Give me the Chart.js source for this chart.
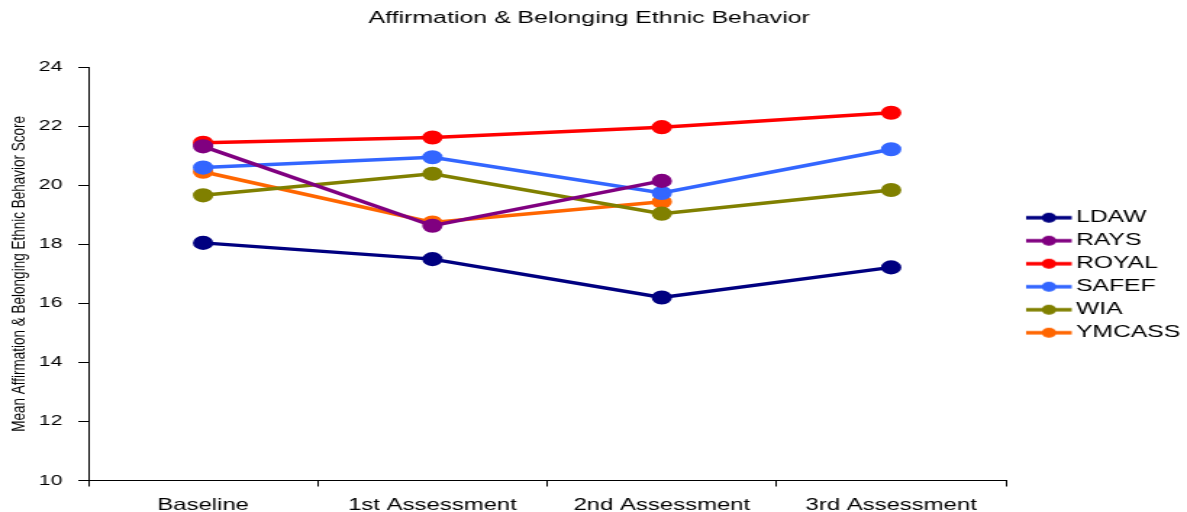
<!DOCTYPE html>
<html>
<head>
<meta charset="utf-8">
<title>Affirmation & Belonging Ethnic Behavior</title>
<script src="https://cdn.jsdelivr.net/npm/chart.js@4/dist/chart.umd.min.js"></script>
<style>
  html, body { margin: 0; padding: 0; background: #fff; overflow: hidden; }
  /* chart is laid out narrow, then stretched sideways to fill the page */
  #stage {
    width: 819px;
    height: 512px;
    transform: scaleX(1.4493);
    transform-origin: 0 0;
  }
</style>
</head>
<body>
<div id="stage"><canvas id="myChart"></canvas></div>
<script>
const assessments = ['Baseline', '1st Assessment', '2nd Assessment', '3rd Assessment'];

const ldaw   = [18.05, 17.50, 16.20, 17.22];
const rays   = [21.32, 18.63, 20.15, null];
const royal  = [21.44, 21.62, 21.97, 22.46];
const safef  = [20.60, 20.95, 19.74, 21.22];
const wia    = [19.66, 20.39, 19.04, 19.84];
const ymcass = [20.46, 18.74, 19.44, null];

const yTicks = [10, 12, 14, 16, 18, 20, 22, 24];

const seriesNames  = ['LDAW', 'RAYS', 'ROYAL', 'SAFEF', 'WIA', 'YMCASS'];
const seriesValues = [ldaw, rays, royal, safef, wia, ymcass];
const seriesColors = ['#000080', '#800080', '#FF0000', '#3366FF', '#808000', '#FF6600'];

// "line with a dot" swatch for the legend; drawn in the right part of the image
function legendSwatch(color) {
    const c = document.createElement('canvas');
    c.width = 46;
    c.height = 14;
    const g = c.getContext('2d');
    g.strokeStyle = color;
    g.lineWidth = 3.5;
    g.beginPath();
    g.moveTo(14, 7);
    g.lineTo(45.5, 7);
    g.stroke();
    g.fillStyle = color;
    g.beginPath();
    g.arc(29.8, 7, 5, 0, Math.PI * 2);
    g.fill();
    return c;
}

const datasets = seriesNames.map((name, i) => ({
    label: name,
    data: seriesValues[i],
    borderColor: seriesColors[i],
    backgroundColor: seriesColors[i],
    pointStyle: 'circle',
    borderWidth: 3.5,
    spanGaps: false
}));

const font = 'Liberation Sans, Arial, sans-serif';

const config = {
    type: 'line',
    data: {
        labels: assessments,
        datasets: datasets
    },
    options: {
        responsive: true,
        maintainAspectRatio: false,
        animation: false,
        layout: {
            padding: { left: -6, right: 0, top: 0, bottom: -13 }
        },
        elements: {
            point: {
                radius: 5.3,
                hoverRadius: 5.3,
                borderWidth: 0
            },
            line: {
                tension: 0
            }
        },
        scales: {
            x: {
                offset: true,
                grid: {
                    offset: true,
                    drawOnChartArea: false,
                    color: '#000',
                    tickLength: 6
                },
                border: { color: '#000', width: 1 },
                ticks: {
                    color: '#000',
                    padding: 11,
                    maxRotation: 0,
                    font: { family: font, size: 16.5, lineHeight: 1 }
                }
            },
            y: {
                min: 10,
                max: 24,
                afterBuildTicks: function(axis) {
                    axis.ticks = yTicks.map(v => ({ value: v }));
                },
                afterFit: function(axis) {
                    axis.width = 67;
                },
                grid: {
                    drawOnChartArea: false,
                    color: '#000',
                    tickLength: 7
                },
                border: { color: '#000', width: 1 },
                ticks: {
                    color: '#000',
                    padding: 11,
                    font: { family: font, size: 14.5 }
                },
                title: {
                    display: true,
                    text: 'Mean Affirmation & Belonging Ethnic Behavior Score',
                    color: '#000',
                    padding: { top: 11, bottom: 6 },
                    font: { family: font, size: 13.5 }
                }
            }
        },
        plugins: {
            title: {
                display: true,
                text: 'Affirmation & Belonging Ethnic Behavior',
                color: '#000',
                padding: { top: 7.8, bottom: 38.8 },
                font: { family: font, size: 17.2, weight: 'normal' }
            },
            legend: {
                position: 'right',
                maxWidth: 125,
                // empty legend title only pushes the entries down
                title: {
                    display: true,
                    text: '',
                    padding: { top: 5.5, bottom: 5.5 },
                    font: { size: 12 }
                },
                labels: {
                    usePointStyle: true,
                    pointStyleWidth: 34,
                    padding: 6,
                    color: '#000',
                    font: { family: font, size: 17 },
                    generateLabels: function(chart) {
                        return chart.data.datasets.map((ds, i) => ({
                            text: ds.label,
                            fontColor: '#000',
                            pointStyle: legendSwatch(seriesColors[i]),
                            fillStyle: seriesColors[i],
                            strokeStyle: seriesColors[i],
                            lineWidth: 0,
                            hidden: false,
                            datasetIndex: i
                        }));
                    }
                }
            },
            tooltip: { enabled: false }
        }
    }
};

const myChart = document.getElementById('myChart');
const chart = new Chart(myChart, config);
</script>
</body>
</html>
